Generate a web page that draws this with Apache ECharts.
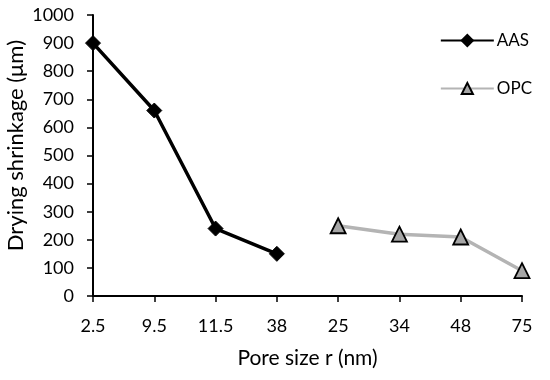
<!DOCTYPE html>
<html><head><meta charset="utf-8">
<script src="https://cdn.jsdelivr.net/npm/echarts@6/dist/echarts.min.js"></script>
<style>html,body{margin:0;padding:0;background:#fff}#c{width:550px;height:380px}</style>
</head><body><div id="c"></div>
<script>
var categories = ['2.5','9.5','11.5','38','25','34','48','75'];
var aasValues = [900, 660, 240, 150, null, null, null, null];
var opcValues = [null, null, null, null, 250, 220, 210, 90];
var yTicks = {min: 0, max: 1000, interval: 100};

var chart = echarts.init(document.getElementById('c'));
var font = 'Lato, "Open Sans", sans-serif';
chart.setOption({
  animation: false,
  grid: {left: 93, top: 15, right: 28, bottom: 84, containLabel: false, outerBoundsMode: 'none'},
  legend: {
    orient: 'vertical', right: 13, top: 27, itemGap: 31,
    itemWidth: 53, itemHeight: 14,
    textStyle: {fontFamily: font, fontSize: 17, color: '#000', padding: [0,0,0,-2]},
    data: ['AAS', 'OPC']
  },
  xAxis: {
    type: 'category', data: categories, boundaryGap: false,
    name: 'Pore size r (nm)', nameLocation: 'middle', nameGap: 52,
    nameTextStyle: {fontFamily: font, fontSize: 21, color: '#000'},
    axisLine: {lineStyle: {color: '#000', width: 2}},
    axisTick: {show: true, inside: false, length: 6, alignWithLabel: true, lineStyle: {color: '#000', width: 1.5}},
    axisLabel: {fontFamily: font, fontSize: 18, color: '#000', margin: 21},
    splitLine: {show: false}
  },
  yAxis: {
    type: 'value', min: yTicks.min, max: yTicks.max, interval: yTicks.interval,
    name: 'Drying shrinkage (μm)', nameLocation: 'middle', nameGap: 66, nameMoveOverlap: false,
    nameTextStyle: {fontFamily: font, fontSize: 22, color: '#000', padding: [0,0,0,20]},
    axisLine: {show: true, lineStyle: {color: '#000', width: 2}},
    axisTick: {show: true, inside: false, length: 6, lineStyle: {color: '#000', width: 1.5}},
    axisLabel: {fontFamily: font, fontSize: 18, color: '#000', margin: 19,
      formatter: function (v) { return String(v); }},
    splitLine: {show: false}
  },
  series: [
    {
      name: 'AAS', type: 'line', data: aasValues, connectNulls: false,
      symbol: 'diamond', symbolSize: 15,
      lineStyle: {color: '#000', width: 3.5},
      itemStyle: {color: '#000', borderColor: '#000', borderWidth: 1}
    },
    {
      name: 'OPC', type: 'line', data: opcValues, connectNulls: false,
      symbol: 'triangle', symbolSize: 15,
      lineStyle: {color: '#b4b4b4', width: 3.5},
      itemStyle: {color: '#a6a6a6', borderColor: '#000', borderWidth: 1.8}
    }
  ]
});
</script></body></html>
